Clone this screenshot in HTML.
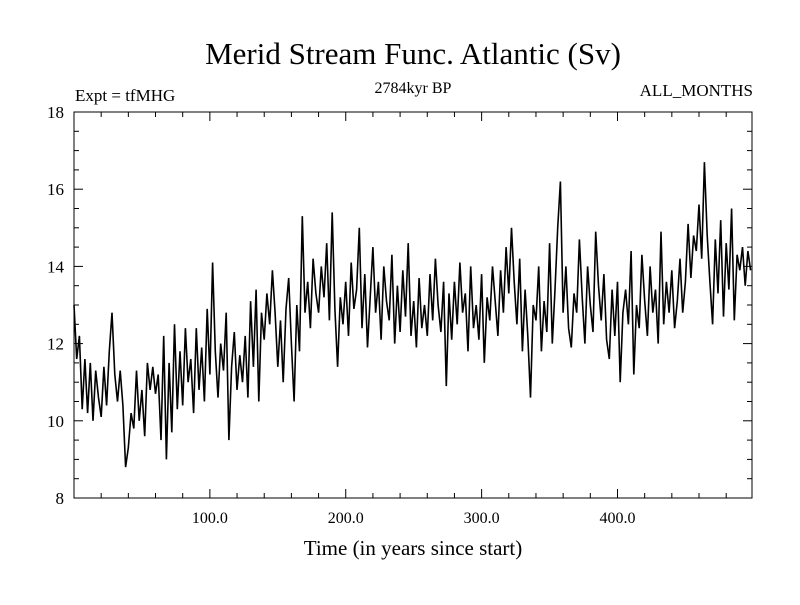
<!DOCTYPE html>
<html><head><meta charset="utf-8"><style>
body{margin:0;background:#fff;}
svg text{font-family:"Liberation Serif",serif;fill:#000;}
</style></head><body>
<svg id="chart" width="800" height="600">
<text x="413" y="64" font-size="31" text-anchor="middle">Merid Stream Func. Atlantic (Sv)</text>
<text x="75" y="101" font-size="17">Expt = tfMHG</text>
<text x="413" y="93" font-size="16" text-anchor="middle">2784kyr BP</text>
<text x="753" y="96" font-size="17" text-anchor="end">ALL_MONTHS</text>
<text x="413" y="555" font-size="21" text-anchor="middle">Time (in years since start)</text>
<rect x="74" y="112" width="678" height="386" fill="none" stroke="#000" stroke-width="1"/>
<g id="axes"></g>
<path id="series" fill="none" stroke="#000" stroke-width="1.6"/>
</svg>
<script>
const xTicks=[100,200,300,400];
const xTickLabels=["100.0","200.0","300.0","400.0"];
const yTicks=[8,10,12,14,16,18];
const yTickLabels=["8","10","12","14","16","18"];
const years=[];
const values=[13.0,11.6,12.2,10.3,11.6,10.2,11.5,10.0,11.3,10.6,
10.1,11.4,10.4,11.8,12.8,11.2,10.5,11.3,10.4,8.8,
9.3,10.2,9.8,11.3,10.0,10.8,9.6,11.5,10.8,11.4,
10.7,11.2,9.5,12.2,9.0,11.5,9.7,12.5,10.3,11.8,
10.4,12.4,11.0,11.6,10.2,12.4,10.8,11.9,10.5,12.9,
11.2,14.1,11.8,10.6,12.0,11.3,12.8,9.5,11.4,12.3,
10.8,11.7,11.0,12.2,10.6,13.1,11.4,13.4,10.5,12.8,
12.1,13.3,12.5,13.9,12.8,11.4,12.6,11.0,12.9,13.7,
12.0,10.5,13.0,11.8,15.3,12.8,13.6,12.4,14.2,13.3,
12.8,14.0,13.2,14.6,12.6,15.4,12.9,11.4,13.2,12.5,
13.6,12.2,14.1,12.9,13.4,15.0,12.4,13.8,11.9,13.2,
14.5,12.8,13.6,12.1,14.0,13.1,12.6,14.3,12.0,13.5,
12.3,13.9,12.7,14.6,12.2,13.1,11.9,13.7,12.4,13.0,
12.2,13.8,12.6,14.2,13.0,12.3,13.6,10.9,13.3,12.1,
13.6,12.5,14.1,12.8,13.3,11.8,14.0,12.4,13.0,12.1,
13.8,11.5,13.2,12.6,14.0,13.1,12.2,13.9,12.8,14.5,
13.3,15.0,13.6,12.5,14.2,11.8,13.4,12.2,10.6,13.0,
12.6,14.0,11.8,13.1,12.3,14.6,12.0,13.4,15.0,16.2,
12.8,14.0,12.4,11.9,13.3,12.8,14.7,13.2,12.0,14.0,
13.0,12.3,14.9,13.5,12.6,13.8,12.1,11.6,13.4,12.2,
13.6,11.0,12.8,13.4,12.5,14.4,11.2,13.0,12.4,14.3,
13.1,12.2,14.0,12.8,13.4,12.0,14.9,12.5,13.6,12.8,
13.9,12.4,13.1,14.2,12.8,13.6,15.1,13.7,14.8,14.4,
15.6,14.2,16.7,14.8,13.6,12.5,14.7,13.3,15.2,12.7,
14.6,13.4,15.5,12.6,14.3,13.9,14.5,13.5,14.4,13.9];
for(let i=0;i<values.length;i++)years.push(i*2);
const X0=74,X1=752,Y0=498,Y1=112;
const xs=v=>X0+(v-0)/(499-0)*(X1-X0);
const ys=v=>Y0-(v-8)/(18-8)*(Y0-Y1);
const NS="http://www.w3.org/2000/svg";
const ax=document.getElementById('axes');
function line(x1,y1,x2,y2,name){const l=document.createElementNS(NS,'line');
l.setAttribute('x1',x1);l.setAttribute('y1',y1);l.setAttribute('x2',x2);l.setAttribute('y2',y2);l.setAttribute('stroke','#000');


ax.appendChild(l);}
function txt(x,y,s,anchor,size,name){const t=document.createElementNS(NS,'text');
t.setAttribute('x',x);t.setAttribute('y',y);t.setAttribute('font-size',size);t.setAttribute('text-anchor',anchor);t.textContent=s;


ax.appendChild(t);}
xTicks.forEach((v,i)=>{const x=xs(v);line(x,Y0,x,Y0-9,'x-tick');line(x,Y1,x,Y1+9,'x-tick-top');txt(x,Y0+25,xTickLabels[i],'middle','16','x-tick-label');});
for(let v=20;v<499;v+=20){if(v%100){const x=xs(v);line(x,Y0,x,Y0-5,'x-minor-tick');line(x,Y1,x,Y1+5,'x-minor-tick-top');}}
yTicks.forEach((v,i)=>{const y=ys(v);line(X0,y,X0+9,y,'y-tick');line(X1,y,X1-9,y,'y-tick-right');txt(X0-10,y+6,yTickLabels[i],'end','17','y-tick-label');});
for(let v=8.5;v<18;v+=0.5){if(v%2){const y=ys(v);line(X0,y,X0+5,y,'y-minor-tick');line(X1,y,X1-5,y,'y-minor-tick-right');}}
let d='';values.forEach((v,i)=>{d+=(i?'L':'M')+xs(years[i]).toFixed(1)+','+ys(v).toFixed(1);});
document.getElementById('series').setAttribute('d',d);
</script>
</body></html>
